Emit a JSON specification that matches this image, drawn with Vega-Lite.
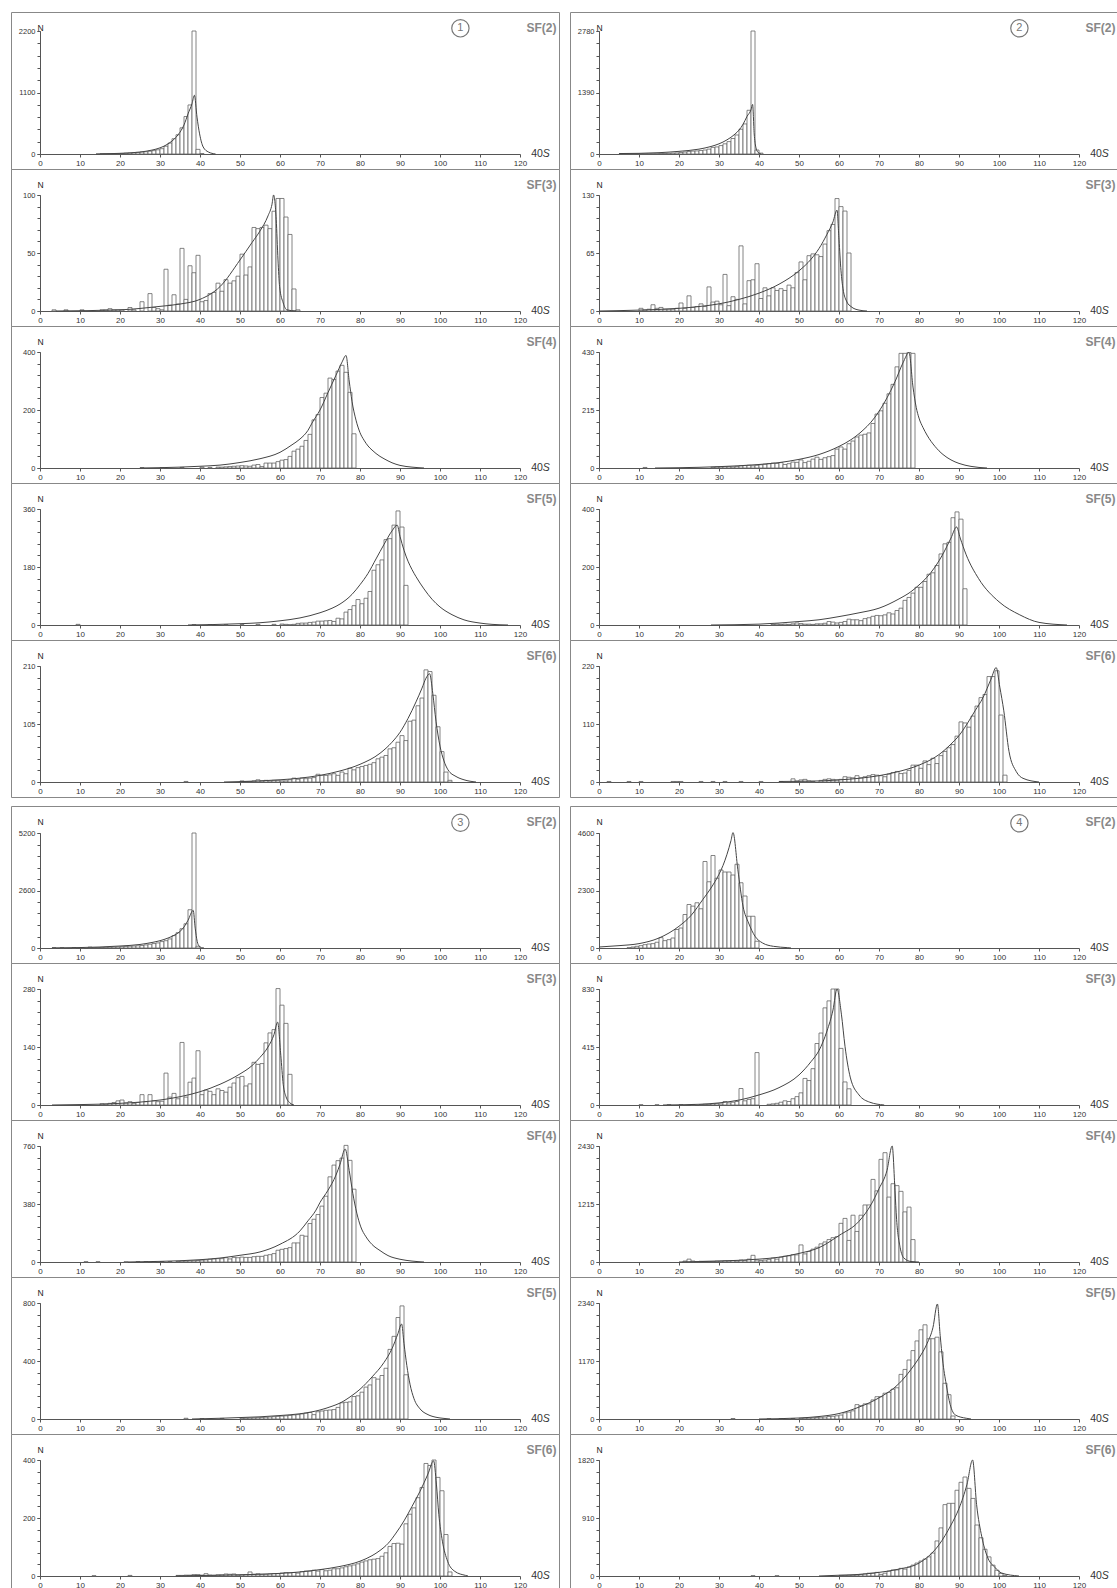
{
"$schema":"https://vega.github.io/schema/vega-lite/v6.json",
"padding":{"left":10,"top":11,"right":0,"bottom":0},
"background":"white",
"config":{
"font":"Liberation Sans",
"numberFormat":"d",
"view":{"stroke":"#888","strokeWidth":1},
"rect":{"fill":"white","stroke":"#666","strokeWidth":0.8},
"line":{"color":"#444","strokeWidth":1,"interpolate":"monotone"},
"text":{"font":"Liberation Sans","fontSize":10.5,"color":"#333","baseline":"middle","align":"left"},
"axis":{"grid":false,"labelFont":"Liberation Sans","titleFont":"Liberation Sans","labelFontSize":8,"labelColor":"#333","domainColor":"#555","tickColor":"#555","tickSize":3,"labelPadding":2,"labelFlush":false,"labelOverlap":false,"domainWidth":1,"tickWidth":1},
"axisX":{"offset":-15,"titleX":545,"titleY":-127,"titleAlign":"right","titleBaseline":"middle","titleFontSize":12,"titleFontWeight":"bold","titleColor":"#888"},
"axisY":{"offset":-29,"titleX":0,"titleY":15,"titleAngle":0,"titleAlign":"center","titleBaseline":"middle","titleFontSize":8.5,"titleFontWeight":"normal","titleColor":"#222","labelFontSize":7.5}
},
"datasets":{
"b12":[{"x":15,"n":3},{"x":16,"n":4},{"x":17,"n":5},{"x":18,"n":6},{"x":19,"n":8},{"x":20,"n":10},{"x":21,"n":14},{"x":22,"n":18},{"x":23,"n":22},{"x":24,"n":28},{"x":25,"n":35},{"x":26,"n":40},{"x":27,"n":50},{"x":28,"n":60},{"x":29,"n":75},{"x":30,"n":95},{"x":31,"n":140},{"x":32,"n":196},{"x":33,"n":273},{"x":34,"n":344},{"x":35,"n":468},{"x":36,"n":670},{"x":37,"n":877},{"x":38,"n":2200},{"x":39,"n":83},{"x":40,"n":8}],
"c12":[{"x":14,"y":2},{"x":20,"y":12},{"x":25,"y":35},{"x":28,"y":70},{"x":30,"y":110},{"x":32,"y":180},{"x":34,"y":300},{"x":35,"y":390},{"x":36,"y":520},{"x":37,"y":717},{"x":38,"y":900},{"x":38.6,"y":1050},{"x":39.25,"y":660},{"x":39.9,"y":360},{"x":40.8,"y":125},{"x":42.1,"y":36},{"x":43.9,"y":0}],
"b13":[{"x":3,"n":1},{"x":6,"n":1},{"x":10,"n":1},{"x":15,"n":1},{"x":16,"n":1},{"x":17,"n":2},{"x":18,"n":1},{"x":19,"n":1},{"x":20,"n":1},{"x":22,"n":3},{"x":23,"n":1},{"x":25,"n":8},{"x":27,"n":15},{"x":28,"n":3},{"x":29,"n":2},{"x":30,"n":1},{"x":31,"n":36},{"x":32,"n":5},{"x":33,"n":14},{"x":34,"n":6},{"x":35,"n":54},{"x":36,"n":10},{"x":37,"n":39},{"x":38,"n":33},{"x":39,"n":48},{"x":40,"n":8},{"x":41,"n":9},{"x":42,"n":15},{"x":43,"n":16},{"x":44,"n":24},{"x":45,"n":17},{"x":46,"n":27},{"x":47,"n":24},{"x":48,"n":26},{"x":49,"n":30},{"x":50,"n":49},{"x":51,"n":31},{"x":52,"n":38},{"x":53,"n":72},{"x":54,"n":71},{"x":55,"n":72},{"x":56,"n":74},{"x":57,"n":71},{"x":58,"n":86},{"x":59,"n":97},{"x":60,"n":97},{"x":61,"n":81},{"x":62,"n":66},{"x":63,"n":19},{"x":64,"n":1}],
"c13":[{"x":4,"y":0},{"x":20,"y":1},{"x":30,"y":4},{"x":35,"y":6},{"x":40,"y":10},{"x":45,"y":21},{"x":50,"y":44},{"x":53,"y":59},{"x":55,"y":69},{"x":57,"y":82},{"x":58,"y":92},{"x":58.4,"y":100},{"x":59.05,"y":79},{"x":59.5,"y":44},{"x":59.9,"y":21},{"x":60.8,"y":7},{"x":61.7,"y":1},{"x":64,"y":0}],
"b14":[{"x":25,"n":1},{"x":30,"n":1},{"x":35,"n":2},{"x":40,"n":3},{"x":42,"n":2},{"x":44,"n":3},{"x":45,"n":3},{"x":46,"n":4},{"x":47,"n":5},{"x":48,"n":6},{"x":49,"n":7},{"x":50,"n":8},{"x":51,"n":7},{"x":52,"n":6},{"x":53,"n":10},{"x":54,"n":12},{"x":55,"n":5},{"x":56,"n":17},{"x":57,"n":17},{"x":58,"n":17},{"x":59,"n":22},{"x":60,"n":27},{"x":61,"n":29},{"x":62,"n":40},{"x":63,"n":58},{"x":64,"n":65},{"x":65,"n":75},{"x":66,"n":95},{"x":67,"n":116},{"x":68,"n":166},{"x":69,"n":184},{"x":70,"n":243},{"x":71,"n":258},{"x":72,"n":310},{"x":73,"n":305},{"x":74,"n":334},{"x":75,"n":354},{"x":76,"n":330},{"x":77,"n":261},{"x":78,"n":118}],
"c14":[{"x":25,"y":0},{"x":35,"y":3},{"x":40,"y":6},{"x":45,"y":10},{"x":50,"y":19},{"x":55,"y":32},{"x":60,"y":54},{"x":63,"y":80},{"x":65,"y":100},{"x":67,"y":130},{"x":68,"y":155},{"x":70,"y":200},{"x":72,"y":260},{"x":74,"y":320},{"x":75.5,"y":365},{"x":76.5,"y":388},{"x":77.3,"y":300},{"x":78,"y":230},{"x":79,"y":165},{"x":80,"y":122},{"x":81,"y":96},{"x":82,"y":76},{"x":83,"y":62},{"x":84,"y":50},{"x":85,"y":40},{"x":86,"y":32},{"x":88,"y":18},{"x":90,"y":9},{"x":93,"y":3},{"x":96,"y":0}],
"b15":[{"x":9,"n":2},{"x":38,"n":1},{"x":42,"n":1},{"x":46,"n":1},{"x":50,"n":1},{"x":54,"n":2},{"x":58,"n":2},{"x":60,"n":3},{"x":61,"n":2},{"x":62,"n":1},{"x":63,"n":2},{"x":64,"n":5},{"x":65,"n":6},{"x":66,"n":6},{"x":67,"n":8},{"x":68,"n":9},{"x":69,"n":12},{"x":70,"n":12},{"x":71,"n":13},{"x":72,"n":14},{"x":73,"n":11},{"x":74,"n":21},{"x":75,"n":19},{"x":76,"n":40},{"x":77,"n":48},{"x":78,"n":60},{"x":79,"n":79},{"x":80,"n":66},{"x":81,"n":83},{"x":82,"n":104},{"x":83,"n":170},{"x":84,"n":187},{"x":85,"n":202},{"x":86,"n":265},{"x":87,"n":268},{"x":88,"n":310},{"x":89,"n":354},{"x":90,"n":304},{"x":91,"n":123}],
"c15":[{"x":37,"y":0},{"x":50,"y":4},{"x":55,"y":7},{"x":60,"y":13},{"x":65,"y":22},{"x":70,"y":38},{"x":73,"y":52},{"x":75,"y":65},{"x":78,"y":95},{"x":80,"y":125},{"x":82,"y":160},{"x":84,"y":205},{"x":86,"y":250},{"x":88,"y":292},{"x":89.3,"y":310},{"x":90,"y":275},{"x":91,"y":232},{"x":92,"y":198},{"x":93,"y":172},{"x":94,"y":150},{"x":96,"y":112},{"x":98,"y":80},{"x":100,"y":56},{"x":103,"y":32},{"x":106,"y":16},{"x":110,"y":6},{"x":113,"y":2},{"x":117,"y":0}],
"b16":[{"x":36,"n":1},{"x":50,"n":2},{"x":51,"n":1},{"x":52,"n":1},{"x":53,"n":2},{"x":54,"n":4},{"x":55,"n":2},{"x":56,"n":3},{"x":57,"n":2},{"x":58,"n":3},{"x":59,"n":3},{"x":60,"n":2},{"x":61,"n":2},{"x":62,"n":4},{"x":63,"n":7},{"x":64,"n":5},{"x":65,"n":7},{"x":66,"n":6},{"x":67,"n":7},{"x":68,"n":8},{"x":69,"n":14},{"x":70,"n":12},{"x":71,"n":12},{"x":72,"n":13},{"x":73,"n":15},{"x":74,"n":12},{"x":75,"n":18},{"x":76,"n":15},{"x":77,"n":25},{"x":78,"n":22},{"x":79,"n":26},{"x":80,"n":28},{"x":81,"n":30},{"x":82,"n":32},{"x":83,"n":35},{"x":84,"n":42},{"x":85,"n":45},{"x":86,"n":48},{"x":87,"n":60},{"x":88,"n":62},{"x":89,"n":72},{"x":90,"n":84},{"x":91,"n":75},{"x":92,"n":110},{"x":93,"n":112},{"x":94,"n":138},{"x":95,"n":152},{"x":96,"n":203},{"x":97,"n":200},{"x":98,"n":157},{"x":99,"n":100},{"x":100,"n":55},{"x":101,"n":18},{"x":102,"n":3}],
"c16":[{"x":46,"y":0},{"x":55,"y":2},{"x":60,"y":4},{"x":65,"y":7},{"x":70,"y":12},{"x":75,"y":20},{"x":80,"y":32},{"x":85,"y":52},{"x":88,"y":72},{"x":90,"y":90},{"x":92,"y":115},{"x":94,"y":145},{"x":95.5,"y":170},{"x":96.5,"y":188},{"x":97.4,"y":196},{"x":98.2,"y":160},{"x":99,"y":110},{"x":100,"y":65},{"x":101,"y":38},{"x":102,"y":22},{"x":104,"y":10},{"x":106,"y":4},{"x":109,"y":0}],
"b22":[{"x":5,"n":2},{"x":6,"n":2},{"x":7,"n":2},{"x":8,"n":2},{"x":9,"n":3},{"x":10,"n":3},{"x":11,"n":3},{"x":12,"n":4},{"x":13,"n":5},{"x":14,"n":6},{"x":15,"n":10},{"x":16,"n":12},{"x":17,"n":15},{"x":18,"n":20},{"x":19,"n":25},{"x":20,"n":35},{"x":21,"n":45},{"x":22,"n":55},{"x":23,"n":65},{"x":24,"n":70},{"x":25,"n":80},{"x":26,"n":90},{"x":27,"n":110},{"x":28,"n":150},{"x":29,"n":160},{"x":30,"n":190},{"x":31,"n":230},{"x":32,"n":280},{"x":33,"n":350},{"x":34,"n":430},{"x":35,"n":560},{"x":36,"n":680},{"x":37,"n":988},{"x":38,"n":2780},{"x":39,"n":90},{"x":40,"n":20}],
"c22":[{"x":5,"y":10},{"x":10,"y":15},{"x":15,"y":30},{"x":20,"y":60},{"x":25,"y":110},{"x":28,"y":170},{"x":30,"y":230},{"x":32,"y":320},{"x":34,"y":450},{"x":35,"y":540},{"x":36,"y":670},{"x":37,"y":850},{"x":38,"y":1000},{"x":38.4,"y":1120},{"x":38.8,"y":453},{"x":39.2,"y":156},{"x":39.7,"y":45},{"x":40.5,"y":0}],
"b23":[{"x":10,"n":3},{"x":11,"n":1},{"x":12,"n":2},{"x":13,"n":7},{"x":14,"n":3},{"x":15,"n":4},{"x":16,"n":2},{"x":17,"n":2},{"x":18,"n":2},{"x":19,"n":3},{"x":20,"n":9},{"x":21,"n":3},{"x":22,"n":17},{"x":23,"n":4},{"x":24,"n":5},{"x":25,"n":8},{"x":26,"n":5},{"x":27,"n":27},{"x":28,"n":10},{"x":29,"n":11},{"x":30,"n":7},{"x":31,"n":41},{"x":32,"n":6},{"x":33,"n":16},{"x":34,"n":13},{"x":35,"n":73},{"x":36,"n":8},{"x":37,"n":34},{"x":38,"n":35},{"x":39,"n":53},{"x":40,"n":14},{"x":41,"n":26},{"x":42,"n":17},{"x":43,"n":26},{"x":44,"n":23},{"x":45,"n":25},{"x":46,"n":23},{"x":47,"n":29},{"x":48,"n":26},{"x":49,"n":43},{"x":50,"n":55},{"x":51,"n":35},{"x":52,"n":62},{"x":53,"n":64},{"x":54,"n":63},{"x":55,"n":61},{"x":56,"n":75},{"x":57,"n":90},{"x":58,"n":97},{"x":59,"n":126},{"x":60,"n":117},{"x":61,"n":112},{"x":62,"n":65}],
"c23":[{"x":0,"y":0},{"x":10,"y":1},{"x":20,"y":3},{"x":25,"y":5},{"x":30,"y":8},{"x":35,"y":13},{"x":40,"y":20},{"x":45,"y":30},{"x":50,"y":45},{"x":53,"y":58},{"x":55,"y":70},{"x":57,"y":86},{"x":58.5,"y":100},{"x":59.5,"y":113},{"x":60,"y":80},{"x":60.5,"y":45},{"x":61,"y":25},{"x":62,"y":10},{"x":63,"y":5},{"x":65,"y":1},{"x":67,"y":0}],
"b24":[{"x":11,"n":2},{"x":28,"n":3},{"x":29,"n":4},{"x":30,"n":4},{"x":31,"n":5},{"x":32,"n":5},{"x":33,"n":4},{"x":34,"n":6},{"x":35,"n":8},{"x":36,"n":9},{"x":37,"n":10},{"x":38,"n":8},{"x":39,"n":10},{"x":40,"n":12},{"x":41,"n":14},{"x":42,"n":16},{"x":43,"n":18},{"x":44,"n":17},{"x":45,"n":20},{"x":46,"n":13},{"x":47,"n":16},{"x":48,"n":22},{"x":49,"n":21},{"x":50,"n":30},{"x":51,"n":20},{"x":52,"n":25},{"x":53,"n":33},{"x":54,"n":40},{"x":55,"n":32},{"x":56,"n":38},{"x":57,"n":42},{"x":58,"n":46},{"x":59,"n":70},{"x":60,"n":78},{"x":61,"n":70},{"x":62,"n":90},{"x":63,"n":100},{"x":64,"n":115},{"x":65,"n":122},{"x":66,"n":125},{"x":67,"n":130},{"x":68,"n":165},{"x":69,"n":200},{"x":70,"n":212},{"x":71,"n":240},{"x":72,"n":275},{"x":73,"n":310},{"x":74,"n":375},{"x":75,"n":425},{"x":76,"n":425},{"x":77,"n":428},{"x":78,"n":425}],
"c24":[{"x":14,"y":0},{"x":20,"y":1},{"x":30,"y":5},{"x":40,"y":13},{"x":45,"y":20},{"x":50,"y":32},{"x":55,"y":50},{"x":60,"y":80},{"x":63,"y":105},{"x":66,"y":140},{"x":68,"y":170},{"x":70,"y":210},{"x":72,"y":260},{"x":74,"y":320},{"x":76,"y":390},{"x":77.5,"y":428},{"x":78.5,"y":300},{"x":79.3,"y":225},{"x":80,"y":185},{"x":81,"y":150},{"x":82,"y":122},{"x":84,"y":80},{"x":86,"y":50},{"x":88,"y":30},{"x":90,"y":17},{"x":93,"y":6},{"x":97,"y":0}],
"b25":[{"x":43,"n":2},{"x":44,"n":3},{"x":45,"n":2},{"x":46,"n":3},{"x":47,"n":2},{"x":48,"n":4},{"x":49,"n":7},{"x":50,"n":5},{"x":51,"n":3},{"x":52,"n":3},{"x":53,"n":2},{"x":54,"n":4},{"x":55,"n":4},{"x":56,"n":6},{"x":57,"n":12},{"x":58,"n":10},{"x":59,"n":7},{"x":60,"n":9},{"x":61,"n":12},{"x":62,"n":20},{"x":63,"n":18},{"x":64,"n":18},{"x":65,"n":15},{"x":66,"n":22},{"x":67,"n":25},{"x":68,"n":30},{"x":69,"n":33},{"x":70,"n":32},{"x":71,"n":35},{"x":72,"n":42},{"x":73,"n":38},{"x":74,"n":50},{"x":75,"n":58},{"x":76,"n":85},{"x":77,"n":95},{"x":78,"n":110},{"x":79,"n":130},{"x":80,"n":130},{"x":81,"n":150},{"x":82,"n":175},{"x":83,"n":180},{"x":84,"n":205},{"x":85,"n":245},{"x":86,"n":280},{"x":87,"n":285},{"x":88,"n":370},{"x":89,"n":390},{"x":90,"n":365},{"x":91,"n":125}],
"c25":[{"x":28,"y":0},{"x":40,"y":3},{"x":50,"y":12},{"x":55,"y":18},{"x":60,"y":29},{"x":65,"y":42},{"x":70,"y":58},{"x":75,"y":90},{"x":78,"y":115},{"x":80,"y":138},{"x":82,"y":165},{"x":84,"y":200},{"x":86,"y":245},{"x":88,"y":300},{"x":89.4,"y":338},{"x":90.3,"y":300},{"x":91.8,"y":242},{"x":94.9,"y":160},{"x":100,"y":80},{"x":105.2,"y":35},{"x":110,"y":9},{"x":117,"y":0}],
"b26":[{"x":2,"n":1},{"x":7,"n":1},{"x":10,"n":1},{"x":18,"n":1},{"x":19,"n":1},{"x":20,"n":1},{"x":25,"n":1},{"x":28,"n":1},{"x":31,"n":1},{"x":35,"n":1},{"x":40,"n":1},{"x":45,"n":1},{"x":48,"n":6},{"x":49,"n":2},{"x":50,"n":4},{"x":51,"n":5},{"x":52,"n":2},{"x":53,"n":1},{"x":55,"n":3},{"x":56,"n":5},{"x":57,"n":6},{"x":58,"n":5},{"x":59,"n":4},{"x":60,"n":5},{"x":61,"n":10},{"x":62,"n":9},{"x":63,"n":8},{"x":64,"n":12},{"x":65,"n":8},{"x":66,"n":10},{"x":67,"n":12},{"x":68,"n":14},{"x":69,"n":13},{"x":70,"n":12},{"x":71,"n":10},{"x":72,"n":15},{"x":73,"n":18},{"x":74,"n":20},{"x":75,"n":16},{"x":76,"n":17},{"x":77,"n":22},{"x":78,"n":32},{"x":79,"n":32},{"x":80,"n":26},{"x":81,"n":40},{"x":82,"n":33},{"x":83,"n":45},{"x":84,"n":35},{"x":85,"n":50},{"x":86,"n":58},{"x":87,"n":65},{"x":88,"n":71},{"x":89,"n":87},{"x":90,"n":114},{"x":91,"n":112},{"x":92,"n":104},{"x":93,"n":125},{"x":94,"n":144},{"x":95,"n":160},{"x":96,"n":166},{"x":97,"n":200},{"x":98,"n":200},{"x":99,"n":211},{"x":100,"n":127},{"x":101,"n":13}],
"c26":[{"x":45,"y":1},{"x":55,"y":2},{"x":60,"y":4},{"x":65,"y":7},{"x":70,"y":12},{"x":75,"y":20},{"x":80,"y":32},{"x":85,"y":52},{"x":88,"y":72},{"x":90,"y":88},{"x":92,"y":110},{"x":94,"y":135},{"x":96,"y":160},{"x":98,"y":195},{"x":99.3,"y":217},{"x":100.2,"y":180},{"x":101.2,"y":135},{"x":102.5,"y":58},{"x":104.3,"y":20},{"x":106,"y":7},{"x":110,"y":0}],
"b32":[{"x":3,"n":5},{"x":5,"n":5},{"x":8,"n":8},{"x":10,"n":10},{"x":12,"n":40},{"x":13,"n":18},{"x":14,"n":20},{"x":15,"n":25},{"x":16,"n":30},{"x":17,"n":35},{"x":18,"n":45},{"x":19,"n":50},{"x":20,"n":60},{"x":21,"n":70},{"x":22,"n":80},{"x":23,"n":90},{"x":24,"n":100},{"x":25,"n":110},{"x":26,"n":140},{"x":27,"n":170},{"x":28,"n":200},{"x":29,"n":230},{"x":30,"n":290},{"x":31,"n":330},{"x":32,"n":410},{"x":33,"n":560},{"x":34,"n":690},{"x":35,"n":870},{"x":36,"n":1095},{"x":37,"n":1730},{"x":38,"n":5200},{"x":39,"n":80}],
"c32":[{"x":3,"y":5},{"x":10,"y":20},{"x":15,"y":45},{"x":20,"y":90},{"x":25,"y":160},{"x":28,"y":250},{"x":30,"y":330},{"x":32,"y":450},{"x":34,"y":620},{"x":35,"y":750},{"x":36,"y":950},{"x":37,"y":1250},{"x":38.3,"y":1700},{"x":38.8,"y":900},{"x":39.3,"y":300},{"x":39.8,"y":80},{"x":40.5,"y":10},{"x":41,"y":0}],
"b33":[{"x":15,"n":3},{"x":16,"n":2},{"x":17,"n":4},{"x":18,"n":6},{"x":19,"n":10},{"x":20,"n":12},{"x":21,"n":5},{"x":22,"n":8},{"x":23,"n":4},{"x":24,"n":6},{"x":25,"n":25},{"x":26,"n":8},{"x":27,"n":25},{"x":28,"n":10},{"x":29,"n":8},{"x":30,"n":9},{"x":31,"n":77},{"x":32,"n":19},{"x":33,"n":28},{"x":34,"n":15},{"x":35,"n":151},{"x":36,"n":19},{"x":37,"n":55},{"x":38,"n":65},{"x":39,"n":131},{"x":40,"n":25},{"x":41,"n":36},{"x":42,"n":33},{"x":43,"n":25},{"x":44,"n":39},{"x":45,"n":35},{"x":46,"n":31},{"x":47,"n":43},{"x":48,"n":53},{"x":49,"n":66},{"x":50,"n":69},{"x":51,"n":46},{"x":52,"n":51},{"x":53,"n":103},{"x":54,"n":98},{"x":55,"n":100},{"x":56,"n":150},{"x":57,"n":174},{"x":58,"n":182},{"x":59,"n":281},{"x":60,"n":241},{"x":61,"n":197},{"x":62,"n":74}],
"c33":[{"x":3,"y":0},{"x":10,"y":1},{"x":15,"y":2},{"x":20,"y":4},{"x":25,"y":7},{"x":30,"y":12},{"x":35,"y":20},{"x":40,"y":32},{"x":45,"y":50},{"x":50,"y":75},{"x":53,"y":95},{"x":55,"y":115},{"x":57,"y":140},{"x":58.5,"y":170},{"x":59.4,"y":200},{"x":60.2,"y":120},{"x":60.8,"y":50},{"x":61.5,"y":20},{"x":62.5,"y":5},{"x":63.5,"y":0}],
"b34":[{"x":11,"n":2},{"x":14,"n":2},{"x":21,"n":2},{"x":24,"n":2},{"x":26,"n":2},{"x":28,"n":3},{"x":30,"n":3},{"x":32,"n":3},{"x":34,"n":4},{"x":35,"n":6},{"x":36,"n":6},{"x":37,"n":8},{"x":38,"n":8},{"x":39,"n":10},{"x":40,"n":12},{"x":41,"n":14},{"x":42,"n":18},{"x":43,"n":20},{"x":44,"n":22},{"x":45,"n":22},{"x":46,"n":28},{"x":47,"n":20},{"x":48,"n":30},{"x":49,"n":28},{"x":50,"n":32},{"x":51,"n":30},{"x":52,"n":30},{"x":53,"n":35},{"x":54,"n":37},{"x":55,"n":37},{"x":56,"n":44},{"x":57,"n":48},{"x":58,"n":55},{"x":59,"n":77},{"x":60,"n":83},{"x":61,"n":88},{"x":62,"n":94},{"x":63,"n":125},{"x":64,"n":125},{"x":65,"n":175},{"x":66,"n":169},{"x":67,"n":252},{"x":68,"n":280},{"x":69,"n":311},{"x":70,"n":366},{"x":71,"n":431},{"x":72,"n":558},{"x":73,"n":635},{"x":74,"n":664},{"x":75,"n":681},{"x":76,"n":764},{"x":77,"n":666},{"x":78,"n":477}],
"c34":[{"x":22,"y":0},{"x":30,"y":4},{"x":40,"y":15},{"x":45,"y":26},{"x":50,"y":44},{"x":55,"y":66},{"x":60,"y":116},{"x":65,"y":204},{"x":67,"y":270},{"x":69,"y":340},{"x":70,"y":390},{"x":72,"y":470},{"x":74,"y":570},{"x":75,"y":640},{"x":76.3,"y":740},{"x":77.3,"y":600},{"x":78.2,"y":450},{"x":79.2,"y":320},{"x":80.2,"y":230},{"x":81.5,"y":165},{"x":83,"y":115},{"x":85,"y":75},{"x":87,"y":42},{"x":90,"y":18},{"x":93,"y":6},{"x":96,"y":0}],
"b35":[{"x":36,"n":5},{"x":40,"n":3},{"x":45,"n":4},{"x":50,"n":5},{"x":51,"n":6},{"x":52,"n":7},{"x":53,"n":8},{"x":54,"n":9},{"x":55,"n":10},{"x":56,"n":12},{"x":57,"n":14},{"x":58,"n":16},{"x":59,"n":18},{"x":60,"n":20},{"x":61,"n":22},{"x":62,"n":25},{"x":63,"n":28},{"x":64,"n":30},{"x":65,"n":35},{"x":66,"n":40},{"x":67,"n":45},{"x":68,"n":30},{"x":69,"n":50},{"x":70,"n":55},{"x":71,"n":60},{"x":72,"n":62},{"x":73,"n":65},{"x":74,"n":80},{"x":75,"n":112},{"x":76,"n":115},{"x":77,"n":118},{"x":78,"n":155},{"x":79,"n":160},{"x":80,"n":185},{"x":81,"n":220},{"x":82,"n":235},{"x":83,"n":285},{"x":84,"n":275},{"x":85,"n":300},{"x":86,"n":350},{"x":87,"n":480},{"x":88,"n":570},{"x":89,"n":700},{"x":90,"n":780},{"x":91,"n":305}],
"c35":[{"x":38,"y":0},{"x":45,"y":5},{"x":50,"y":10},{"x":55,"y":15},{"x":60,"y":24},{"x":65,"y":36},{"x":70,"y":62},{"x":73,"y":88},{"x":75,"y":110},{"x":78,"y":162},{"x":80,"y":205},{"x":83,"y":290},{"x":86,"y":390},{"x":88,"y":485},{"x":89.5,"y":590},{"x":90.4,"y":655},{"x":91,"y":520},{"x":91.7,"y":370},{"x":92.5,"y":240},{"x":93.5,"y":140},{"x":95,"y":70},{"x":97,"y":30},{"x":99,"y":12},{"x":101,"y":4},{"x":102.5,"y":0}],
"b36":[{"x":13,"n":1},{"x":22,"n":2},{"x":34,"n":2},{"x":35,"n":2},{"x":36,"n":3},{"x":37,"n":3},{"x":38,"n":5},{"x":39,"n":5},{"x":40,"n":3},{"x":41,"n":8},{"x":42,"n":3},{"x":43,"n":2},{"x":44,"n":4},{"x":45,"n":4},{"x":46,"n":7},{"x":47,"n":6},{"x":48,"n":7},{"x":49,"n":3},{"x":50,"n":4},{"x":51,"n":5},{"x":52,"n":14},{"x":53,"n":6},{"x":54,"n":8},{"x":55,"n":6},{"x":56,"n":6},{"x":57,"n":7},{"x":58,"n":8},{"x":59,"n":8},{"x":60,"n":10},{"x":61,"n":12},{"x":62,"n":11},{"x":63,"n":12},{"x":64,"n":10},{"x":65,"n":15},{"x":66,"n":17},{"x":67,"n":17},{"x":68,"n":20},{"x":69,"n":17},{"x":70,"n":22},{"x":71,"n":18},{"x":72,"n":20},{"x":73,"n":25},{"x":74,"n":25},{"x":75,"n":28},{"x":76,"n":32},{"x":77,"n":35},{"x":78,"n":38},{"x":79,"n":42},{"x":80,"n":48},{"x":81,"n":52},{"x":82,"n":56},{"x":83,"n":58},{"x":84,"n":60},{"x":85,"n":68},{"x":86,"n":80},{"x":87,"n":102},{"x":88,"n":112},{"x":89,"n":113},{"x":90,"n":110},{"x":91,"n":180},{"x":92,"n":213},{"x":93,"n":235},{"x":94,"n":270},{"x":95,"n":305},{"x":96,"n":388},{"x":97,"n":381},{"x":98,"n":400},{"x":99,"n":340},{"x":100,"n":294},{"x":101,"n":143},{"x":102,"n":14}],
"c36":[{"x":34,"y":0},{"x":45,"y":3},{"x":55,"y":6},{"x":60,"y":9},{"x":65,"y":14},{"x":70,"y":22},{"x":75,"y":33},{"x":80,"y":51},{"x":83,"y":70},{"x":85,"y":88},{"x":87,"y":112},{"x":89,"y":148},{"x":91,"y":190},{"x":93,"y":240},{"x":95,"y":292},{"x":97,"y":352},{"x":98.4,"y":397},{"x":99.1,"y":317},{"x":99.7,"y":213},{"x":100.6,"y":120},{"x":101.9,"y":51},{"x":103.7,"y":16},{"x":106.4,"y":2},{"x":107,"y":0}],
"b42":[{"x":7,"n":13},{"x":8,"n":40},{"x":9,"n":67},{"x":10,"n":94},{"x":11,"n":134},{"x":12,"n":160},{"x":13,"n":175},{"x":14,"n":230},{"x":15,"n":415},{"x":16,"n":295},{"x":17,"n":335},{"x":18,"n":400},{"x":19,"n":740},{"x":20,"n":800},{"x":21,"n":1340},{"x":22,"n":1740},{"x":23,"n":1675},{"x":24,"n":1810},{"x":25,"n":1570},{"x":26,"n":3460},{"x":27,"n":2650},{"x":28,"n":3700},{"x":29,"n":2790},{"x":30,"n":3120},{"x":31,"n":3040},{"x":32,"n":3040},{"x":33,"n":2920},{"x":34,"n":3350},{"x":35,"n":2610},{"x":36,"n":2080},{"x":37,"n":1270},{"x":38,"n":1270},{"x":39,"n":270}],
"c42":[{"x":0,"y":40},{"x":5,"y":94},{"x":10,"y":175},{"x":15,"y":400},{"x":20,"y":870},{"x":23,"y":1300},{"x":26,"y":1950},{"x":28,"y":2400},{"x":30,"y":2950},{"x":31,"y":3300},{"x":32,"y":3750},{"x":33,"y":4300},{"x":33.5,"y":4620},{"x":34.7,"y":3150},{"x":36,"y":1675},{"x":37.4,"y":1000},{"x":39,"y":470},{"x":40.9,"y":200},{"x":43.6,"y":67},{"x":47.2,"y":13},{"x":48,"y":0}],
"b43":[{"x":10,"n":2},{"x":14,"n":2},{"x":17,"n":2},{"x":20,"n":2},{"x":23,"n":2},{"x":25,"n":2},{"x":26,"n":5},{"x":27,"n":5},{"x":28,"n":8},{"x":29,"n":10},{"x":30,"n":8},{"x":31,"n":25},{"x":32,"n":15},{"x":33,"n":20},{"x":34,"n":25},{"x":35,"n":118},{"x":36,"n":30},{"x":37,"n":40},{"x":38,"n":45},{"x":39,"n":375},{"x":42,"n":5},{"x":43,"n":8},{"x":44,"n":12},{"x":45,"n":20},{"x":46,"n":30},{"x":47,"n":25},{"x":48,"n":45},{"x":49,"n":60},{"x":50,"n":87},{"x":51,"n":190},{"x":52,"n":175},{"x":53,"n":260},{"x":54,"n":440},{"x":55,"n":515},{"x":56,"n":695},{"x":57,"n":745},{"x":58,"n":830},{"x":59,"n":830},{"x":60,"n":405},{"x":61,"n":165},{"x":62,"n":116}],
"c43":[{"x":16,"y":0},{"x":25,"y":5},{"x":30,"y":15},{"x":35,"y":35},{"x":40,"y":72},{"x":45,"y":124},{"x":50,"y":215},{"x":53,"y":310},{"x":55,"y":390},{"x":57,"y":530},{"x":58.5,"y":680},{"x":59.5,"y":830},{"x":60.6,"y":650},{"x":61.5,"y":420},{"x":62.8,"y":200},{"x":65,"y":72},{"x":67.7,"y":20},{"x":71.3,"y":0}],
"b44":[{"x":21,"n":20},{"x":22,"n":60},{"x":23,"n":20},{"x":24,"n":10},{"x":25,"n":15},{"x":26,"n":15},{"x":27,"n":15},{"x":28,"n":15},{"x":29,"n":20},{"x":30,"n":20},{"x":31,"n":25},{"x":32,"n":20},{"x":33,"n":30},{"x":34,"n":20},{"x":35,"n":40},{"x":36,"n":30},{"x":37,"n":60},{"x":38,"n":140},{"x":39,"n":40},{"x":40,"n":30},{"x":41,"n":40},{"x":42,"n":50},{"x":43,"n":80},{"x":44,"n":60},{"x":45,"n":100},{"x":46,"n":120},{"x":47,"n":130},{"x":48,"n":150},{"x":49,"n":150},{"x":50,"n":358},{"x":51,"n":170},{"x":52,"n":220},{"x":53,"n":270},{"x":54,"n":310},{"x":55,"n":380},{"x":56,"n":420},{"x":57,"n":470},{"x":58,"n":510},{"x":59,"n":530},{"x":60,"n":810},{"x":61,"n":913},{"x":62,"n":452},{"x":63,"n":980},{"x":64,"n":640},{"x":65,"n":980},{"x":66,"n":1195},{"x":67,"n":1195},{"x":68,"n":1730},{"x":69,"n":1490},{"x":70,"n":2150},{"x":71,"n":2290},{"x":72,"n":1360},{"x":73,"n":1640},{"x":74,"n":1600},{"x":75,"n":1480},{"x":76,"n":1050},{"x":77,"n":1150},{"x":78,"n":470}],
"c44":[{"x":20,"y":0},{"x":30,"y":20},{"x":40,"y":60},{"x":45,"y":100},{"x":50,"y":180},{"x":55,"y":300},{"x":60,"y":555},{"x":65,"y":853},{"x":68,"y":1200},{"x":70,"y":1535},{"x":72,"y":1920},{"x":73.3,"y":2430},{"x":74,"y":1490},{"x":74.4,"y":895},{"x":75.3,"y":300},{"x":76.2,"y":85},{"x":78,"y":10},{"x":80,"y":0}],
"b45":[{"x":33,"n":10},{"x":42,"n":5},{"x":45,"n":8},{"x":48,"n":10},{"x":50,"n":15},{"x":51,"n":18},{"x":52,"n":20},{"x":53,"n":25},{"x":54,"n":30},{"x":55,"n":35},{"x":56,"n":40},{"x":57,"n":50},{"x":58,"n":55},{"x":59,"n":65},{"x":60,"n":80},{"x":61,"n":125},{"x":62,"n":140},{"x":63,"n":165},{"x":64,"n":290},{"x":65,"n":270},{"x":66,"n":305},{"x":67,"n":305},{"x":68,"n":385},{"x":69,"n":450},{"x":70,"n":450},{"x":71,"n":520},{"x":72,"n":535},{"x":73,"n":600},{"x":74,"n":630},{"x":75,"n":900},{"x":76,"n":1000},{"x":77,"n":1190},{"x":78,"n":1380},{"x":79,"n":1575},{"x":80,"n":1800},{"x":81,"n":1900},{"x":82,"n":1620},{"x":83,"n":1620},{"x":84,"n":1650},{"x":85,"n":1355},{"x":86,"n":720},{"x":87,"n":490},{"x":88,"n":60}],
"c45":[{"x":40,"y":0},{"x":50,"y":20},{"x":55,"y":50},{"x":60,"y":110},{"x":65,"y":240},{"x":70,"y":427},{"x":75,"y":715},{"x":78,"y":1000},{"x":80,"y":1230},{"x":82,"y":1520},{"x":83.5,"y":1850},{"x":84.6,"y":2320},{"x":85.3,"y":1680},{"x":85.9,"y":1190},{"x":86.8,"y":700},{"x":87.8,"y":290},{"x":89.1,"y":80},{"x":91.8,"y":15},{"x":93,"y":0}],
"b46":[{"x":38,"n":5},{"x":44,"n":5},{"x":60,"n":10},{"x":61,"n":10},{"x":62,"n":12},{"x":63,"n":12},{"x":64,"n":15},{"x":65,"n":25},{"x":66,"n":32},{"x":67,"n":44},{"x":68,"n":44},{"x":69,"n":57},{"x":70,"n":25},{"x":71,"n":44},{"x":72,"n":76},{"x":73,"n":95},{"x":74,"n":95},{"x":75,"n":120},{"x":76,"n":108},{"x":77,"n":140},{"x":78,"n":171},{"x":79,"n":203},{"x":80,"n":235},{"x":81,"n":266},{"x":82,"n":300},{"x":83,"n":360},{"x":84,"n":550},{"x":85,"n":755},{"x":86,"n":1120},{"x":87,"n":1140},{"x":88,"n":1140},{"x":89,"n":1345},{"x":90,"n":1470},{"x":91,"n":1553},{"x":92,"n":1375},{"x":93,"n":1217},{"x":94,"n":800},{"x":95,"n":600},{"x":96,"n":420},{"x":97,"n":300},{"x":98,"n":170},{"x":99,"n":90},{"x":100,"n":40},{"x":101,"n":10}],
"c46":[{"x":55,"y":0},{"x":60,"y":12},{"x":65,"y":25},{"x":70,"y":57},{"x":75,"y":108},{"x":80,"y":203},{"x":85,"y":490},{"x":88,"y":800},{"x":90,"y":1060},{"x":92,"y":1440},{"x":93.4,"y":1820},{"x":94.4,"y":1120},{"x":95.7,"y":615},{"x":97.1,"y":300},{"x":98.9,"y":140},{"x":100.7,"y":45},{"x":105,"y":0}]
},
"spacing":7,
"vconcat":[
{"hconcat":[
{"vconcat":[
{"width":548,"height":157,"resolve":{"axis":{"y":"independent"}},"layer":[
{"data":{"name":"b12"},"transform":[{"bin":{"step":1,"extent":[0,130]},"field":"x","as":["x0","x1"]}],"mark":"rect","encoding":{"x":{"field":"x0","type":"quantitative","scale":{"domain":[0,120],"range":[29,509],"nice":false},"axis":{"title":"SF(2)"}},"x2":{"field":"x1"},"y":{"field":"n","type":"quantitative","scale":{"domain":[0,2200],"range":[142,19],"nice":false},"axis":{"title":"N","labelOverlap":false,"values":[0,1100,2200]}},"y2":{"datum":0}}},
{"data":{"name":"c12"},"mark":"line","encoding":{"x":{"field":"x","type":"quantitative"},"y":{"field":"y","type":"quantitative","axis":{"orient":"left","title":null,"labels":false,"domain":false,"values":[0,220,440,660,880,1100,1320,1540,1760,1980,2200]}}}},
{"data":{"values":[{}]},"mark":{"type":"text","text":"40"},"encoding":{"x":{"datum":122.8},"y":{"datum":0,"axis":null}}},
{"data":{"values":[{}]},"mark":{"type":"text","text":"S","fontStyle":"italic"},"encoding":{"x":{"datum":125.7},"y":{"datum":0,"axis":null}}},
{"data":{"values":[{}]},"mark":{"type":"point","shape":"circle","size":300,"filled":false,"stroke":"#777","strokeWidth":1.2,"opacity":1},"encoding":{"x":{"datum":105.1},"y":{"datum":2248,"axis":null}}},
{"data":{"values":[{}]},"mark":{"type":"text","text":"1","align":"center","fontSize":11,"color":"#777"},"encoding":{"x":{"datum":105.1},"y":{"datum":2248,"axis":null}}}
]},
{"width":548,"height":157,"resolve":{"axis":{"y":"independent"}},"layer":[
{"data":{"name":"b13"},"transform":[{"bin":{"step":1,"extent":[0,130]},"field":"x","as":["x0","x1"]}],"mark":"rect","encoding":{"x":{"field":"x0","type":"quantitative","scale":{"domain":[0,120],"range":[29,509],"nice":false},"axis":{"title":"SF(3)"}},"x2":{"field":"x1"},"y":{"field":"n","type":"quantitative","scale":{"domain":[0,100],"range":[142,26],"nice":false},"axis":{"title":"N","labelOverlap":false,"values":[0,50,100]}},"y2":{"datum":0}}},
{"data":{"name":"c13"},"mark":"line","encoding":{"x":{"field":"x","type":"quantitative"},"y":{"field":"y","type":"quantitative","axis":{"orient":"left","title":null,"labels":false,"domain":false,"values":[0,10,20,30,40,50,60,70,80,90,100]}}}},
{"data":{"values":[{}]},"mark":{"type":"text","text":"40"},"encoding":{"x":{"datum":122.8},"y":{"datum":0,"axis":null}}},
{"data":{"values":[{}]},"mark":{"type":"text","text":"S","fontStyle":"italic"},"encoding":{"x":{"datum":125.7},"y":{"datum":0,"axis":null}}}
]},
{"width":548,"height":157,"resolve":{"axis":{"y":"independent"}},"layer":[
{"data":{"name":"b14"},"transform":[{"bin":{"step":1,"extent":[0,130]},"field":"x","as":["x0","x1"]}],"mark":"rect","encoding":{"x":{"field":"x0","type":"quantitative","scale":{"domain":[0,120],"range":[29,509],"nice":false},"axis":{"title":"SF(4)"}},"x2":{"field":"x1"},"y":{"field":"n","type":"quantitative","scale":{"domain":[0,400],"range":[142,26],"nice":false},"axis":{"title":"N","labelOverlap":false,"values":[0,200,400]}},"y2":{"datum":0}}},
{"data":{"name":"c14"},"mark":"line","encoding":{"x":{"field":"x","type":"quantitative"},"y":{"field":"y","type":"quantitative","axis":{"orient":"left","title":null,"labels":false,"domain":false,"values":[0,40,80,120,160,200,240,280,320,360,400]}}}},
{"data":{"values":[{}]},"mark":{"type":"text","text":"40"},"encoding":{"x":{"datum":122.8},"y":{"datum":0,"axis":null}}},
{"data":{"values":[{}]},"mark":{"type":"text","text":"S","fontStyle":"italic"},"encoding":{"x":{"datum":125.7},"y":{"datum":0,"axis":null}}}
]},
{"width":548,"height":157,"resolve":{"axis":{"y":"independent"}},"layer":[
{"data":{"name":"b15"},"transform":[{"bin":{"step":1,"extent":[0,130]},"field":"x","as":["x0","x1"]}],"mark":"rect","encoding":{"x":{"field":"x0","type":"quantitative","scale":{"domain":[0,120],"range":[29,509],"nice":false},"axis":{"title":"SF(5)"}},"x2":{"field":"x1"},"y":{"field":"n","type":"quantitative","scale":{"domain":[0,360],"range":[142,26],"nice":false},"axis":{"title":"N","labelOverlap":false,"values":[0,180,360]}},"y2":{"datum":0}}},
{"data":{"name":"c15"},"mark":"line","encoding":{"x":{"field":"x","type":"quantitative"},"y":{"field":"y","type":"quantitative","axis":{"orient":"left","title":null,"labels":false,"domain":false,"values":[0,36,72,108,144,180,216,252,288,324,360]}}}},
{"data":{"values":[{}]},"mark":{"type":"text","text":"40"},"encoding":{"x":{"datum":122.8},"y":{"datum":0,"axis":null}}},
{"data":{"values":[{}]},"mark":{"type":"text","text":"S","fontStyle":"italic"},"encoding":{"x":{"datum":125.7},"y":{"datum":0,"axis":null}}}
]},
{"width":548,"height":157,"resolve":{"axis":{"y":"independent"}},"layer":[
{"data":{"name":"b16"},"transform":[{"bin":{"step":1,"extent":[0,130]},"field":"x","as":["x0","x1"]}],"mark":"rect","encoding":{"x":{"field":"x0","type":"quantitative","scale":{"domain":[0,120],"range":[29,509],"nice":false},"axis":{"title":"SF(6)"}},"x2":{"field":"x1"},"y":{"field":"n","type":"quantitative","scale":{"domain":[0,210],"range":[142,26],"nice":false},"axis":{"title":"N","labelOverlap":false,"values":[0,105,210]}},"y2":{"datum":0}}},
{"data":{"name":"c16"},"mark":"line","encoding":{"x":{"field":"x","type":"quantitative"},"y":{"field":"y","type":"quantitative","axis":{"orient":"left","title":null,"labels":false,"domain":false,"values":[0,21,42,63,84,105,126,147,168,189,210]}}}},
{"data":{"values":[{}]},"mark":{"type":"text","text":"40"},"encoding":{"x":{"datum":122.8},"y":{"datum":0,"axis":null}}},
{"data":{"values":[{}]},"mark":{"type":"text","text":"S","fontStyle":"italic"},"encoding":{"x":{"datum":125.7},"y":{"datum":0,"axis":null}}}
]}
],"spacing":0,"bounds":"flush"},
{"vconcat":[
{"width":548,"height":157,"resolve":{"axis":{"y":"independent"}},"layer":[
{"data":{"name":"b22"},"transform":[{"bin":{"step":1,"extent":[0,130]},"field":"x","as":["x0","x1"]}],"mark":"rect","encoding":{"x":{"field":"x0","type":"quantitative","scale":{"domain":[0,120],"range":[29,509],"nice":false},"axis":{"title":"SF(2)"}},"x2":{"field":"x1"},"y":{"field":"n","type":"quantitative","scale":{"domain":[0,2780],"range":[142,19],"nice":false},"axis":{"title":"N","labelOverlap":false,"values":[0,1390,2780]}},"y2":{"datum":0}}},
{"data":{"name":"c22"},"mark":"line","encoding":{"x":{"field":"x","type":"quantitative"},"y":{"field":"y","type":"quantitative","axis":{"orient":"left","title":null,"labels":false,"domain":false,"values":[0,278,556,834,1112,1390,1668,1946,2224,2502,2780]}}}},
{"data":{"values":[{}]},"mark":{"type":"text","text":"40"},"encoding":{"x":{"datum":122.8},"y":{"datum":0,"axis":null}}},
{"data":{"values":[{}]},"mark":{"type":"text","text":"S","fontStyle":"italic"},"encoding":{"x":{"datum":125.7},"y":{"datum":0,"axis":null}}},
{"data":{"values":[{}]},"mark":{"type":"point","shape":"circle","size":300,"filled":false,"stroke":"#777","strokeWidth":1.2,"opacity":1},"encoding":{"x":{"datum":105.1},"y":{"datum":2841,"axis":null}}},
{"data":{"values":[{}]},"mark":{"type":"text","text":"2","align":"center","fontSize":11,"color":"#777"},"encoding":{"x":{"datum":105.1},"y":{"datum":2841,"axis":null}}}
]},
{"width":548,"height":157,"resolve":{"axis":{"y":"independent"}},"layer":[
{"data":{"name":"b23"},"transform":[{"bin":{"step":1,"extent":[0,130]},"field":"x","as":["x0","x1"]}],"mark":"rect","encoding":{"x":{"field":"x0","type":"quantitative","scale":{"domain":[0,120],"range":[29,509],"nice":false},"axis":{"title":"SF(3)"}},"x2":{"field":"x1"},"y":{"field":"n","type":"quantitative","scale":{"domain":[0,130],"range":[142,26],"nice":false},"axis":{"title":"N","labelOverlap":false,"values":[0,65,130]}},"y2":{"datum":0}}},
{"data":{"name":"c23"},"mark":"line","encoding":{"x":{"field":"x","type":"quantitative"},"y":{"field":"y","type":"quantitative","axis":{"orient":"left","title":null,"labels":false,"domain":false,"values":[0,13,26,39,52,65,78,91,104,117,130]}}}},
{"data":{"values":[{}]},"mark":{"type":"text","text":"40"},"encoding":{"x":{"datum":122.8},"y":{"datum":0,"axis":null}}},
{"data":{"values":[{}]},"mark":{"type":"text","text":"S","fontStyle":"italic"},"encoding":{"x":{"datum":125.7},"y":{"datum":0,"axis":null}}}
]},
{"width":548,"height":157,"resolve":{"axis":{"y":"independent"}},"layer":[
{"data":{"name":"b24"},"transform":[{"bin":{"step":1,"extent":[0,130]},"field":"x","as":["x0","x1"]}],"mark":"rect","encoding":{"x":{"field":"x0","type":"quantitative","scale":{"domain":[0,120],"range":[29,509],"nice":false},"axis":{"title":"SF(4)"}},"x2":{"field":"x1"},"y":{"field":"n","type":"quantitative","scale":{"domain":[0,430],"range":[142,26],"nice":false},"axis":{"title":"N","labelOverlap":false,"values":[0,215,430]}},"y2":{"datum":0}}},
{"data":{"name":"c24"},"mark":"line","encoding":{"x":{"field":"x","type":"quantitative"},"y":{"field":"y","type":"quantitative","axis":{"orient":"left","title":null,"labels":false,"domain":false,"values":[0,43,86,129,172,215,258,301,344,387,430]}}}},
{"data":{"values":[{}]},"mark":{"type":"text","text":"40"},"encoding":{"x":{"datum":122.8},"y":{"datum":0,"axis":null}}},
{"data":{"values":[{}]},"mark":{"type":"text","text":"S","fontStyle":"italic"},"encoding":{"x":{"datum":125.7},"y":{"datum":0,"axis":null}}}
]},
{"width":548,"height":157,"resolve":{"axis":{"y":"independent"}},"layer":[
{"data":{"name":"b25"},"transform":[{"bin":{"step":1,"extent":[0,130]},"field":"x","as":["x0","x1"]}],"mark":"rect","encoding":{"x":{"field":"x0","type":"quantitative","scale":{"domain":[0,120],"range":[29,509],"nice":false},"axis":{"title":"SF(5)"}},"x2":{"field":"x1"},"y":{"field":"n","type":"quantitative","scale":{"domain":[0,400],"range":[142,26],"nice":false},"axis":{"title":"N","labelOverlap":false,"values":[0,200,400]}},"y2":{"datum":0}}},
{"data":{"name":"c25"},"mark":"line","encoding":{"x":{"field":"x","type":"quantitative"},"y":{"field":"y","type":"quantitative","axis":{"orient":"left","title":null,"labels":false,"domain":false,"values":[0,40,80,120,160,200,240,280,320,360,400]}}}},
{"data":{"values":[{}]},"mark":{"type":"text","text":"40"},"encoding":{"x":{"datum":122.8},"y":{"datum":0,"axis":null}}},
{"data":{"values":[{}]},"mark":{"type":"text","text":"S","fontStyle":"italic"},"encoding":{"x":{"datum":125.7},"y":{"datum":0,"axis":null}}}
]},
{"width":548,"height":157,"resolve":{"axis":{"y":"independent"}},"layer":[
{"data":{"name":"b26"},"transform":[{"bin":{"step":1,"extent":[0,130]},"field":"x","as":["x0","x1"]}],"mark":"rect","encoding":{"x":{"field":"x0","type":"quantitative","scale":{"domain":[0,120],"range":[29,509],"nice":false},"axis":{"title":"SF(6)"}},"x2":{"field":"x1"},"y":{"field":"n","type":"quantitative","scale":{"domain":[0,220],"range":[142,26],"nice":false},"axis":{"title":"N","labelOverlap":false,"values":[0,110,220]}},"y2":{"datum":0}}},
{"data":{"name":"c26"},"mark":"line","encoding":{"x":{"field":"x","type":"quantitative"},"y":{"field":"y","type":"quantitative","axis":{"orient":"left","title":null,"labels":false,"domain":false,"values":[0,22,44,66,88,110,132,154,176,198,220]}}}},
{"data":{"values":[{}]},"mark":{"type":"text","text":"40"},"encoding":{"x":{"datum":122.8},"y":{"datum":0,"axis":null}}},
{"data":{"values":[{}]},"mark":{"type":"text","text":"S","fontStyle":"italic"},"encoding":{"x":{"datum":125.7},"y":{"datum":0,"axis":null}}}
]}
],"spacing":0,"bounds":"flush"}
],"spacing":9},
{"hconcat":[
{"vconcat":[
{"width":548,"height":157,"resolve":{"axis":{"y":"independent"}},"layer":[
{"data":{"name":"b32"},"transform":[{"bin":{"step":1,"extent":[0,130]},"field":"x","as":["x0","x1"]}],"mark":"rect","encoding":{"x":{"field":"x0","type":"quantitative","scale":{"domain":[0,120],"range":[29,509],"nice":false},"axis":{"title":"SF(2)"}},"x2":{"field":"x1"},"y":{"field":"n","type":"quantitative","scale":{"domain":[0,5200],"range":[142,27],"nice":false},"axis":{"title":"N","labelOverlap":false,"values":[0,2600,5200]}},"y2":{"datum":0}}},
{"data":{"name":"c32"},"mark":"line","encoding":{"x":{"field":"x","type":"quantitative"},"y":{"field":"y","type":"quantitative","axis":{"orient":"left","title":null,"labels":false,"domain":false,"values":[0,520,1040,1560,2080,2600,3120,3640,4160,4680,5200]}}}},
{"data":{"values":[{}]},"mark":{"type":"text","text":"40"},"encoding":{"x":{"datum":122.8},"y":{"datum":0,"axis":null}}},
{"data":{"values":[{}]},"mark":{"type":"text","text":"S","fontStyle":"italic"},"encoding":{"x":{"datum":125.7},"y":{"datum":0,"axis":null}}},
{"data":{"values":[{}]},"mark":{"type":"point","shape":"circle","size":300,"filled":false,"stroke":"#777","strokeWidth":1.2,"opacity":1},"encoding":{"x":{"datum":105.1},"y":{"datum":5666,"axis":null}}},
{"data":{"values":[{}]},"mark":{"type":"text","text":"3","align":"center","fontSize":11,"color":"#777"},"encoding":{"x":{"datum":105.1},"y":{"datum":5666,"axis":null}}}
]},
{"width":548,"height":157,"resolve":{"axis":{"y":"independent"}},"layer":[
{"data":{"name":"b33"},"transform":[{"bin":{"step":1,"extent":[0,130]},"field":"x","as":["x0","x1"]}],"mark":"rect","encoding":{"x":{"field":"x0","type":"quantitative","scale":{"domain":[0,120],"range":[29,509],"nice":false},"axis":{"title":"SF(3)"}},"x2":{"field":"x1"},"y":{"field":"n","type":"quantitative","scale":{"domain":[0,280],"range":[142,26],"nice":false},"axis":{"title":"N","labelOverlap":false,"values":[0,140,280]}},"y2":{"datum":0}}},
{"data":{"name":"c33"},"mark":"line","encoding":{"x":{"field":"x","type":"quantitative"},"y":{"field":"y","type":"quantitative","axis":{"orient":"left","title":null,"labels":false,"domain":false,"values":[0,28,56,84,112,140,168,196,224,252,280]}}}},
{"data":{"values":[{}]},"mark":{"type":"text","text":"40"},"encoding":{"x":{"datum":122.8},"y":{"datum":0,"axis":null}}},
{"data":{"values":[{}]},"mark":{"type":"text","text":"S","fontStyle":"italic"},"encoding":{"x":{"datum":125.7},"y":{"datum":0,"axis":null}}}
]},
{"width":548,"height":157,"resolve":{"axis":{"y":"independent"}},"layer":[
{"data":{"name":"b34"},"transform":[{"bin":{"step":1,"extent":[0,130]},"field":"x","as":["x0","x1"]}],"mark":"rect","encoding":{"x":{"field":"x0","type":"quantitative","scale":{"domain":[0,120],"range":[29,509],"nice":false},"axis":{"title":"SF(4)"}},"x2":{"field":"x1"},"y":{"field":"n","type":"quantitative","scale":{"domain":[0,760],"range":[142,26],"nice":false},"axis":{"title":"N","labelOverlap":false,"values":[0,380,760]}},"y2":{"datum":0}}},
{"data":{"name":"c34"},"mark":"line","encoding":{"x":{"field":"x","type":"quantitative"},"y":{"field":"y","type":"quantitative","axis":{"orient":"left","title":null,"labels":false,"domain":false,"values":[0,76,152,228,304,380,456,532,608,684,760]}}}},
{"data":{"values":[{}]},"mark":{"type":"text","text":"40"},"encoding":{"x":{"datum":122.8},"y":{"datum":0,"axis":null}}},
{"data":{"values":[{}]},"mark":{"type":"text","text":"S","fontStyle":"italic"},"encoding":{"x":{"datum":125.7},"y":{"datum":0,"axis":null}}}
]},
{"width":548,"height":157,"resolve":{"axis":{"y":"independent"}},"layer":[
{"data":{"name":"b35"},"transform":[{"bin":{"step":1,"extent":[0,130]},"field":"x","as":["x0","x1"]}],"mark":"rect","encoding":{"x":{"field":"x0","type":"quantitative","scale":{"domain":[0,120],"range":[29,509],"nice":false},"axis":{"title":"SF(5)"}},"x2":{"field":"x1"},"y":{"field":"n","type":"quantitative","scale":{"domain":[0,800],"range":[142,26],"nice":false},"axis":{"title":"N","labelOverlap":false,"values":[0,400,800]}},"y2":{"datum":0}}},
{"data":{"name":"c35"},"mark":"line","encoding":{"x":{"field":"x","type":"quantitative"},"y":{"field":"y","type":"quantitative","axis":{"orient":"left","title":null,"labels":false,"domain":false,"values":[0,80,160,240,320,400,480,560,640,720,800]}}}},
{"data":{"values":[{}]},"mark":{"type":"text","text":"40"},"encoding":{"x":{"datum":122.8},"y":{"datum":0,"axis":null}}},
{"data":{"values":[{}]},"mark":{"type":"text","text":"S","fontStyle":"italic"},"encoding":{"x":{"datum":125.7},"y":{"datum":0,"axis":null}}}
]},
{"width":548,"height":157,"resolve":{"axis":{"y":"independent"}},"layer":[
{"data":{"name":"b36"},"transform":[{"bin":{"step":1,"extent":[0,130]},"field":"x","as":["x0","x1"]}],"mark":"rect","encoding":{"x":{"field":"x0","type":"quantitative","scale":{"domain":[0,120],"range":[29,509],"nice":false},"axis":{"title":"SF(6)"}},"x2":{"field":"x1"},"y":{"field":"n","type":"quantitative","scale":{"domain":[0,400],"range":[142,26],"nice":false},"axis":{"title":"N","labelOverlap":false,"values":[0,200,400]}},"y2":{"datum":0}}},
{"data":{"name":"c36"},"mark":"line","encoding":{"x":{"field":"x","type":"quantitative"},"y":{"field":"y","type":"quantitative","axis":{"orient":"left","title":null,"labels":false,"domain":false,"values":[0,40,80,120,160,200,240,280,320,360,400]}}}},
{"data":{"values":[{}]},"mark":{"type":"text","text":"40"},"encoding":{"x":{"datum":122.8},"y":{"datum":0,"axis":null}}},
{"data":{"values":[{}]},"mark":{"type":"text","text":"S","fontStyle":"italic"},"encoding":{"x":{"datum":125.7},"y":{"datum":0,"axis":null}}}
]}
],"spacing":0,"bounds":"flush"},
{"vconcat":[
{"width":548,"height":157,"resolve":{"axis":{"y":"independent"}},"layer":[
{"data":{"name":"b42"},"transform":[{"bin":{"step":1,"extent":[0,130]},"field":"x","as":["x0","x1"]}],"mark":"rect","encoding":{"x":{"field":"x0","type":"quantitative","scale":{"domain":[0,120],"range":[29,509],"nice":false},"axis":{"title":"SF(2)"}},"x2":{"field":"x1"},"y":{"field":"n","type":"quantitative","scale":{"domain":[0,4600],"range":[142,27],"nice":false},"axis":{"title":"N","labelOverlap":false,"values":[0,2300,4600]}},"y2":{"datum":0}}},
{"data":{"name":"c42"},"mark":"line","encoding":{"x":{"field":"x","type":"quantitative"},"y":{"field":"y","type":"quantitative","axis":{"orient":"left","title":null,"labels":false,"domain":false,"values":[0,460,920,1380,1840,2300,2760,3220,3680,4140,4600]}}}},
{"data":{"values":[{}]},"mark":{"type":"text","text":"40"},"encoding":{"x":{"datum":122.8},"y":{"datum":0,"axis":null}}},
{"data":{"values":[{}]},"mark":{"type":"text","text":"S","fontStyle":"italic"},"encoding":{"x":{"datum":125.7},"y":{"datum":0,"axis":null}}},
{"data":{"values":[{}]},"mark":{"type":"point","shape":"circle","size":300,"filled":false,"stroke":"#777","strokeWidth":1.2,"opacity":1},"encoding":{"x":{"datum":105.1},"y":{"datum":4988,"axis":null}}},
{"data":{"values":[{}]},"mark":{"type":"text","text":"4","align":"center","fontSize":11,"color":"#777"},"encoding":{"x":{"datum":105.1},"y":{"datum":4988,"axis":null}}}
]},
{"width":548,"height":157,"resolve":{"axis":{"y":"independent"}},"layer":[
{"data":{"name":"b43"},"transform":[{"bin":{"step":1,"extent":[0,130]},"field":"x","as":["x0","x1"]}],"mark":"rect","encoding":{"x":{"field":"x0","type":"quantitative","scale":{"domain":[0,120],"range":[29,509],"nice":false},"axis":{"title":"SF(3)"}},"x2":{"field":"x1"},"y":{"field":"n","type":"quantitative","scale":{"domain":[0,830],"range":[142,26],"nice":false},"axis":{"title":"N","labelOverlap":false,"values":[0,415,830]}},"y2":{"datum":0}}},
{"data":{"name":"c43"},"mark":"line","encoding":{"x":{"field":"x","type":"quantitative"},"y":{"field":"y","type":"quantitative","axis":{"orient":"left","title":null,"labels":false,"domain":false,"values":[0,83,166,249,332,415,498,581,664,747,830]}}}},
{"data":{"values":[{}]},"mark":{"type":"text","text":"40"},"encoding":{"x":{"datum":122.8},"y":{"datum":0,"axis":null}}},
{"data":{"values":[{}]},"mark":{"type":"text","text":"S","fontStyle":"italic"},"encoding":{"x":{"datum":125.7},"y":{"datum":0,"axis":null}}}
]},
{"width":548,"height":157,"resolve":{"axis":{"y":"independent"}},"layer":[
{"data":{"name":"b44"},"transform":[{"bin":{"step":1,"extent":[0,130]},"field":"x","as":["x0","x1"]}],"mark":"rect","encoding":{"x":{"field":"x0","type":"quantitative","scale":{"domain":[0,120],"range":[29,509],"nice":false},"axis":{"title":"SF(4)"}},"x2":{"field":"x1"},"y":{"field":"n","type":"quantitative","scale":{"domain":[0,2430],"range":[142,26],"nice":false},"axis":{"title":"N","labelOverlap":false,"values":[0,1215,2430]}},"y2":{"datum":0}}},
{"data":{"name":"c44"},"mark":"line","encoding":{"x":{"field":"x","type":"quantitative"},"y":{"field":"y","type":"quantitative","axis":{"orient":"left","title":null,"labels":false,"domain":false,"values":[0,243,486,729,972,1215,1458,1701,1944,2187,2430]}}}},
{"data":{"values":[{}]},"mark":{"type":"text","text":"40"},"encoding":{"x":{"datum":122.8},"y":{"datum":0,"axis":null}}},
{"data":{"values":[{}]},"mark":{"type":"text","text":"S","fontStyle":"italic"},"encoding":{"x":{"datum":125.7},"y":{"datum":0,"axis":null}}}
]},
{"width":548,"height":157,"resolve":{"axis":{"y":"independent"}},"layer":[
{"data":{"name":"b45"},"transform":[{"bin":{"step":1,"extent":[0,130]},"field":"x","as":["x0","x1"]}],"mark":"rect","encoding":{"x":{"field":"x0","type":"quantitative","scale":{"domain":[0,120],"range":[29,509],"nice":false},"axis":{"title":"SF(5)"}},"x2":{"field":"x1"},"y":{"field":"n","type":"quantitative","scale":{"domain":[0,2340],"range":[142,26],"nice":false},"axis":{"title":"N","labelOverlap":false,"values":[0,1170,2340]}},"y2":{"datum":0}}},
{"data":{"name":"c45"},"mark":"line","encoding":{"x":{"field":"x","type":"quantitative"},"y":{"field":"y","type":"quantitative","axis":{"orient":"left","title":null,"labels":false,"domain":false,"values":[0,234,468,702,936,1170,1404,1638,1872,2106,2340]}}}},
{"data":{"values":[{}]},"mark":{"type":"text","text":"40"},"encoding":{"x":{"datum":122.8},"y":{"datum":0,"axis":null}}},
{"data":{"values":[{}]},"mark":{"type":"text","text":"S","fontStyle":"italic"},"encoding":{"x":{"datum":125.7},"y":{"datum":0,"axis":null}}}
]},
{"width":548,"height":157,"resolve":{"axis":{"y":"independent"}},"layer":[
{"data":{"name":"b46"},"transform":[{"bin":{"step":1,"extent":[0,130]},"field":"x","as":["x0","x1"]}],"mark":"rect","encoding":{"x":{"field":"x0","type":"quantitative","scale":{"domain":[0,120],"range":[29,509],"nice":false},"axis":{"title":"SF(6)"}},"x2":{"field":"x1"},"y":{"field":"n","type":"quantitative","scale":{"domain":[0,1820],"range":[142,26],"nice":false},"axis":{"title":"N","labelOverlap":false,"values":[0,910,1820]}},"y2":{"datum":0}}},
{"data":{"name":"c46"},"mark":"line","encoding":{"x":{"field":"x","type":"quantitative"},"y":{"field":"y","type":"quantitative","axis":{"orient":"left","title":null,"labels":false,"domain":false,"values":[0,182,364,546,728,910,1092,1274,1456,1638,1820]}}}},
{"data":{"values":[{}]},"mark":{"type":"text","text":"40"},"encoding":{"x":{"datum":122.8},"y":{"datum":0,"axis":null}}},
{"data":{"values":[{}]},"mark":{"type":"text","text":"S","fontStyle":"italic"},"encoding":{"x":{"datum":125.7},"y":{"datum":0,"axis":null}}}
]}
],"spacing":0,"bounds":"flush"}
],"spacing":9}
]
}
